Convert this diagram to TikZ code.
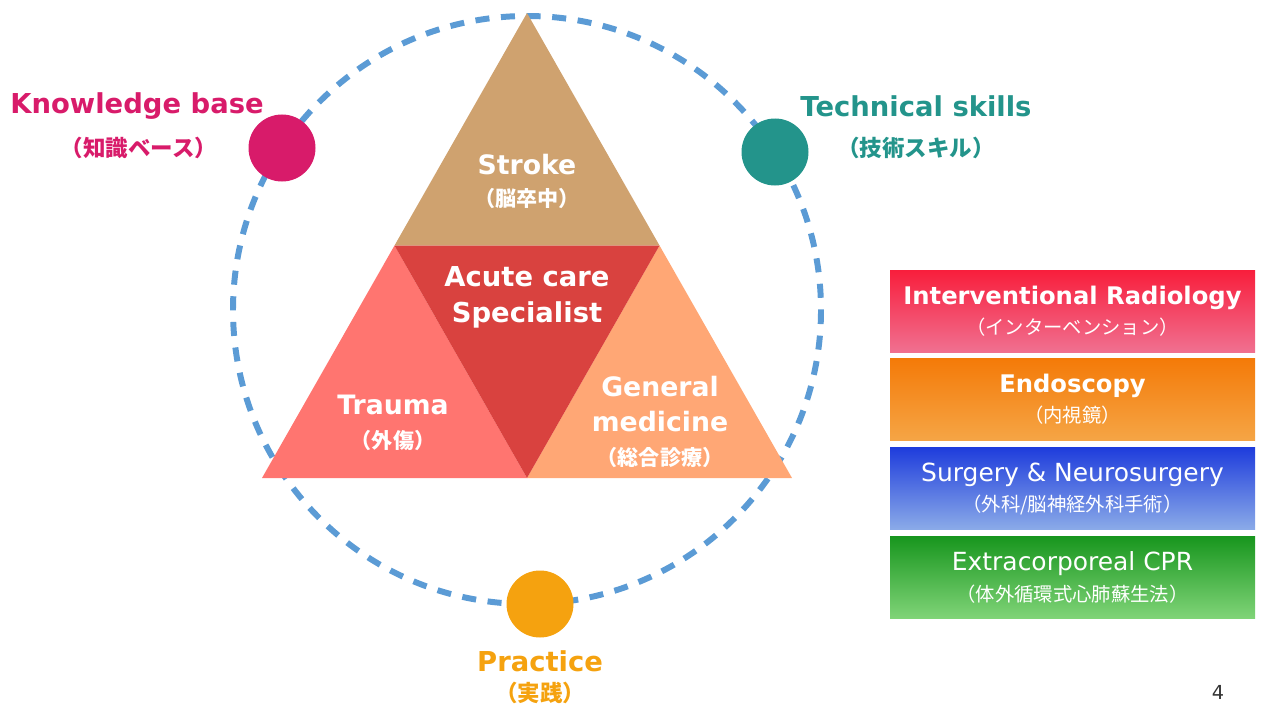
\documentclass[tikz,border=0pt]{standalone}
\usepackage{fontspec}
\setmainfont{DejaVu Sans}
\newfontfamily\jpfont{Noto Sans CJK JP}
\usetikzlibrary{shapes.geometric}
\definecolor{strokeC}{HTML}{CFA26F}
\definecolor{traumaC}{HTML}{FF7570}
\definecolor{genC}{HTML}{FFA775}
\definecolor{acuteC}{HTML}{D9423F}
\definecolor{ringC}{HTML}{5B9BD5}
\definecolor{knowC}{HTML}{D81B6A}
\definecolor{techC}{HTML}{23948B}
\definecolor{pracC}{HTML}{F5A20F}
\definecolor{irTop}{HTML}{F81E3C}
\definecolor{irBot}{HTML}{F07090}
\definecolor{enTop}{HTML}{F47A08}
\definecolor{enBot}{HTML}{F5A545}
\definecolor{suTop}{HTML}{1E3CDC}
\definecolor{suBot}{HTML}{8AAAE8}
\definecolor{ecTop}{HTML}{18961E}
\definecolor{ecBot}{HTML}{80D478}
\tikzset{
  lab/.style={inner sep=0pt, align=center, font=\bfseries\fontsize{15.6}{18}\selectfont},
  jlab/.style={inner sep=0pt, font=\jpfont\bfseries\fontsize{12.8}{14}\selectfont},
  wlab/.style={inner sep=0pt, text=white, align=center, font=\bfseries\fontsize{15.2}{19.5}\selectfont},
  wjlab/.style={inner sep=0pt, text=white, font=\jpfont\bfseries\fontsize{12}{14}\selectfont},
  dot/.style={circle, minimum size=67*0.02cm, inner sep=0pt},
  boxC/.style={minimum width=365*0.02cm, minimum height=82*0.02cm, inner sep=0pt},
  btitle/.style={inner sep=0pt, text=white, font=\fontsize{14.2}{17}\selectfont},
  bjap/.style={inner sep=0pt, text=white, font=\jpfont\fontsize{11}{13}\selectfont}
}
\begin{document}
\begin{tikzpicture}[x=0.02cm, y=-0.02cm]
\useasboundingbox (0,0) rectangle (1261,706);
% ring
\draw[ringC, line width=3.4pt, dash pattern=on 8pt off 6.6pt] (527,310) circle (294);
% triangles
\coordinate (A) at (527,13);
\coordinate (L) at (262,478);
\coordinate (R) at (792,478);
\coordinate (ML) at (394.5,245.5);
\coordinate (MR) at (659.5,245.5);
\coordinate (MB) at (527,478);
\fill[strokeC] (A) -- (ML) -- (MR) -- cycle;
\fill[traumaC] (ML) -- (L) -- (MB) -- cycle;
\fill[genC] (MR) -- (MB) -- (R) -- cycle;
\fill[acuteC] (ML) -- (MR) -- (MB) -- cycle;
% triangle labels
\node[wlab] (stroke) at (527,165) {Stroke};
\node[wjlab] (strokej) at (527,198) {（脳卒中）};
\node[wlab, font=\bfseries\fontsize{15.6}{20.5}\selectfont] (acute) at (527,297) {Acute care\\Specialist};
\node[wlab] (trauma) at (393,405) {Trauma};
\node[wjlab] (traumaj) at (393,440) {（外傷）};
\node[wlab, font=\bfseries\fontsize{15.2}{20}\selectfont] (gen) at (660,404) {General\\medicine};
\node[wjlab] (genj) at (660,457) {（総合診療）};
% dots
\node[dot, fill=knowC] (know) at (282,148) {};
\node[dot, fill=techC] (tech) at (775,152) {};
\node[dot, fill=pracC] (prac) at (540,604) {};
% outer labels
\node[lab, text=knowC] (knowt) at (137,106) {Knowledge base};
\node[jlab, text=knowC] (knowj) at (139,148) {（知識ベース）};
\node[lab, text=techC] (techt) at (916,106) {Technical skills};
\node[jlab, text=techC] (techj) at (916,148) {（技術スキル）};
\node[lab, text=pracC] (pract) at (540,661) {Practice};
\node[jlab, text=pracC] (pracj) at (540,693) {（実践）};
% right boxes
\node[boxC, top color=irTop, bottom color=irBot] (ir) at (1072.5,311) {};
\node[btitle, font=\bfseries\fontsize{13.8}{17}\selectfont] (irt) at (1072.5,298) {Interventional Radiology};
\node[bjap] (irj) at (1072.5,327) {（インターベンション）};
\node[boxC, top color=enTop, bottom color=enBot] (en) at (1072.5,399) {};
\node[btitle, font=\bfseries\fontsize{13.8}{17}\selectfont] (ent) at (1072.5,386) {Endoscopy};
\node[bjap] (enj) at (1072.5,415) {（内視鏡）};
\node[boxC, top color=suTop, bottom color=suBot] (su) at (1072.5,488) {};
\node[btitle] (sut) at (1072.5,475) {Surgery \& Neurosurgery};
\node[bjap] (suj) at (1072.5,505) {（外科/脳神経外科手術）};
\node[boxC, top color=ecTop, bottom color=ecBot] (ec) at (1072.5,577.5) {};
\node[btitle] (ect) at (1072.5,564) {Extracorporeal CPR};
\node[bjap] (ecj) at (1072.5,594) {（体外循環式心肺蘇生法）};
% page number
\node[inner sep=0pt, text=black!80, font=\fontsize{11}{13}\selectfont] (pg) at (1218,692) {4};
\end{tikzpicture}
\end{document}
